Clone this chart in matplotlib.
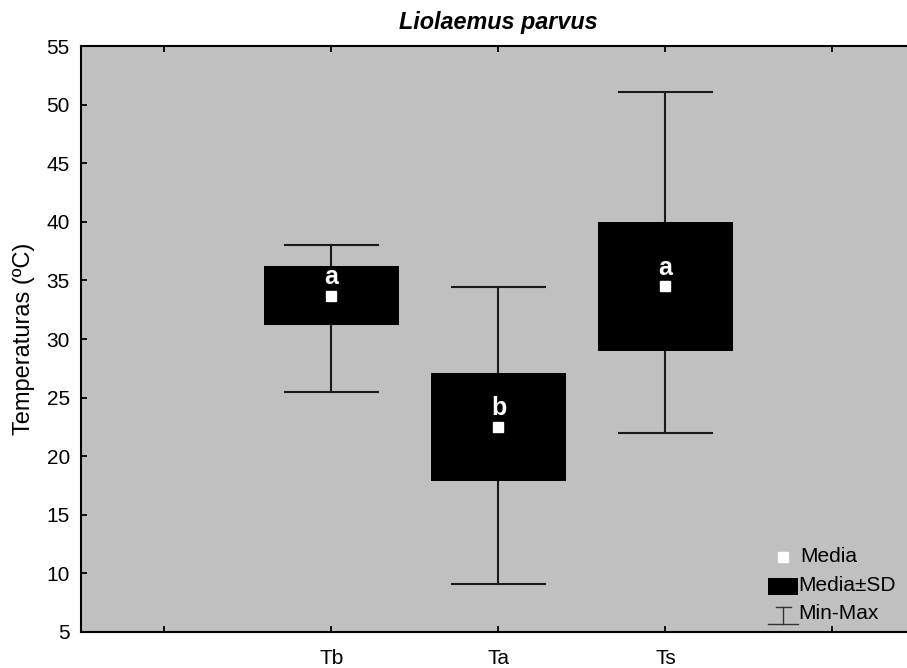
import matplotlib
matplotlib.use("Agg")
import matplotlib.pyplot as plt
import matplotlib.patches as mpatches
from matplotlib.lines import Line2D

plt.rcParams['font.family'] = ['Liberation Sans', 'DejaVu Sans']

# data
categories = ['Tb', 'Ta', 'Ts']
means = [33.7, 22.5, 34.5]
sds = [2.5, 4.6, 5.5]
mins = [25.5, 9.1, 22.0]
maxs = [38.0, 34.4, 51.1]
letters = ['a', 'b', 'a']
tick_labels = [''] + categories + ['']

fig = plt.figure(figsize=(9.07, 6.68), dpi=100)
ax = fig.add_axes([0.0893, 0.0539, 0.9206, 0.8772])
ax.set_facecolor('#c0c0c0')

positions = [1, 2, 3]
box_w = 0.81
cap_w = 0.56
line_col = '#1a1a1a'

for x, m, s, lo, hi, let in zip(positions, means, sds, mins, maxs, letters):
    ax.plot([x, x], [lo, hi], color=line_col, lw=1.5, zorder=2)
    ax.plot([x - cap_w / 2, x + cap_w / 2], [hi, hi], color=line_col, lw=1.5, zorder=2)
    ax.plot([x - cap_w / 2, x + cap_w / 2], [lo, lo], color=line_col, lw=1.5, zorder=2)
    ax.bar(x, 2 * s, bottom=m - s, width=box_w, color='black', zorder=3)
    ax.plot(x, m, marker='s', color='white', markersize=6.5, ls='', zorder=4)
    ax.text(x, m + 1.0, let, color='white', fontsize=18, fontweight='bold',
            ha='center', va='baseline', zorder=5)

ax.set_xlim(-0.5, 4.5)
ax.set_ylim(5, 55)
ax.set_xticks(range(len(tick_labels)))
ax.set_xticklabels(tick_labels)
ax.set_yticks(range(5, 56, 5))
ax.tick_params(direction='in', length=4, width=1.3, labelsize=15, top=True, right=True,
               colors='black')
ax.tick_params(axis='y', pad=8)
ax.tick_params(axis='x', pad=12)
for sp in ax.spines.values():
    sp.set_linewidth(1.5)

ax.set_ylabel('Temperaturas (ºC)', fontsize=17, labelpad=8)
ax.set_title('Liolaemus parvus', fontsize=16.8, fontweight='bold', style='italic', pad=12)

# legend drawn in axes fraction
tr = ax.transAxes
ax.plot(0.841, 0.128, marker='s', color='white', markersize=6.5, transform=tr, zorder=6)
ax.text(0.861, 0.128, 'Media', transform=tr, fontsize=15, va='center', ha='left')
ax.add_patch(mpatches.Rectangle((0.823, 0.063), 0.036, 0.029, facecolor='black',
                                transform=tr, zorder=6))
ax.text(0.859, 0.0785, 'Media±SD', transform=tr, fontsize=15, va='center', ha='left')
ax.add_line(Line2D([0.832, 0.850], [0.043, 0.043], color='#333333', lw=1, transform=tr))
ax.add_line(Line2D([0.841, 0.841], [0.043, 0.014], color='#333333', lw=1, transform=tr))
ax.add_line(Line2D([0.823, 0.859], [0.014, 0.014], color='#333333', lw=1, transform=tr))
ax.text(0.859, 0.032, 'Min-Max', transform=tr, fontsize=15, va='center', ha='left')

fig.savefig('out.png', dpi=100)
